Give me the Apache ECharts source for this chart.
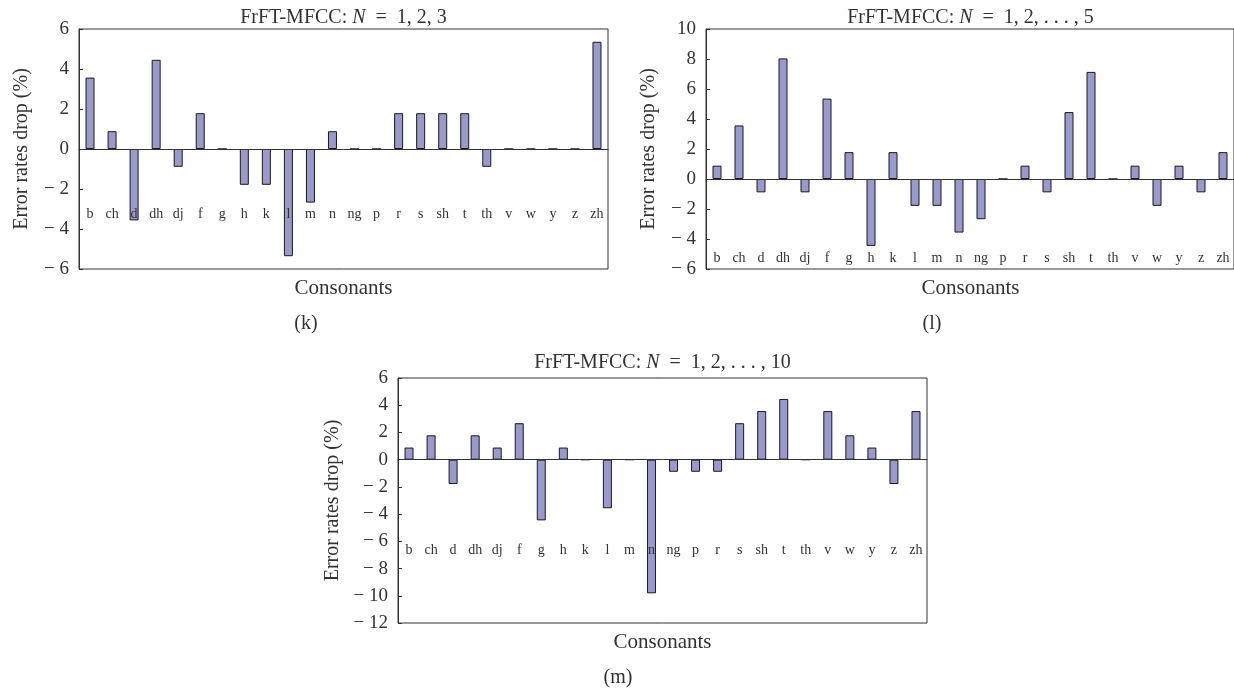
<!DOCTYPE html>
<html>
<head>
<meta charset="utf-8">
<script src="https://cdn.jsdelivr.net/npm/echarts@6/dist/echarts.min.js"></script>
<style>
  html, body { margin: 0; padding: 0; background: #fff; }
  #main { width: 1234px; height: 689px; }
</style>
</head>
<body>
<div id="main"></div>
<script>
  // consonant categories (same for all three panels)
  var consonants = ['b', 'ch', 'd', 'dh', 'dj', 'f', 'g', 'h', 'k', 'l', 'm', 'n', 'ng', 'p', 'r', 's', 'sh', 't', 'th', 'v', 'w', 'y', 'z', 'zh'];

  // error rate drop (%), panel (k) N = 1,2,3
  var dropK = [3.57, 0.89, -3.57, 4.46, -0.89, 1.79, 0, -1.79, -1.79, -5.36, -2.68, 0.89, 0, 0, 1.79, 1.79, 1.79, 1.79, -0.89, 0, 0, 0, 0, 5.36];
  // panel (l) N = 1..5
  var dropL = [0.89, 3.57, -0.89, 8.04, -0.89, 5.36, 1.79, -4.46, 1.79, -1.79, -1.79, -3.57, -2.68, 0, 0.89, -0.89, 4.46, 7.14, 0, 0.89, -1.79, 0.89, -0.89, 1.79];
  // panel (m) N = 1..10
  var dropM = [0.89, 1.79, -1.79, 1.79, 0.89, 2.68, -4.46, 0.89, 0, -3.57, 0, -9.82, -0.89, -0.89, -0.89, 2.68, 3.57, 4.46, 0, 3.57, 1.79, 0.89, -1.79, 3.57];

  // y axis ranges
  var yRangeK = [-6, 6];
  var yRangeL = [-6, 10];
  var yRangeM = [-12, 6];

  var titles = ['1, 2, 3', '1, 2, . . . , 5', '1, 2, . . . , 10'];
  var panelTags = ['(k)', '(l)', '(m)'];

  var FONT = '"Liberation Serif", "DejaVu Serif", serif';
  var INK = '#333';

  // plot boxes: left, top, width, height
  var boxes = [
    { left: 79, top: 29, width: 529, height: 240, labelMargin: 58, nameGap: 47, tagX: 306, titleGap: 11 },
    { left: 706, top: 29, width: 529, height: 240, labelMargin: 72, nameGap: 47, tagX: 932, titleGap: 11 },
    { left: 398, top: 378, width: 529, height: 245, labelMargin: 84, nameGap: 55, tagX: 618, titleGap: 15 }
  ];
  var ranges = [yRangeK, yRangeL, yRangeM];
  var datas = [dropK, dropL, dropM];

  var grids = [], xAxes = [], yAxes = [], series = [], graphics = [];

  boxes.forEach(function (b, i) {
    var lo = ranges[i][0], hi = ranges[i][1];
    // move the category axis up to the zero line
    var zeroShift = b.height * (-lo) / (hi - lo);

    grids.push({
      left: b.left, top: b.top, width: b.width, height: b.height,
      show: true, borderColor: INK, borderWidth: 1, backgroundColor: 'transparent'
    });
    xAxes.push({
      type: 'category',
      gridIndex: i,
      data: consonants,
      position: 'bottom',
      offset: -zeroShift,
      z: 5,
      axisLine: { onZero: false, lineStyle: { color: INK, width: 1 } },
      axisTick: { inside: true, length: 4, lineStyle: { color: INK } },
      axisLabel: { interval: 0, margin: b.labelMargin, color: INK, fontSize: 14, fontFamily: FONT },
      splitLine: { show: false }
    });
    yAxes.push({
      type: 'value',
      gridIndex: i,
      min: lo,
      max: hi,
      interval: 2,
      name: 'Error rates drop (%)',
      nameLocation: 'middle',
      nameGap: b.nameGap,
      nameTextStyle: { color: INK, fontSize: 20, fontFamily: FONT },
      axisLine: { show: true, lineStyle: { color: INK, width: 1 } },
      axisTick: { show: true, inside: true, length: 4, lineStyle: { color: INK } },
      axisLabel: {
        margin: 10, color: INK, fontSize: 19, fontFamily: FONT,
        formatter: function (v) { return v < 0 ? '\u2212 ' + (-v) : String(v); }
      },
      splitLine: { show: false }
    });
    series.push({
      type: 'bar',
      xAxisIndex: i,
      yAxisIndex: i,
      data: datas[i],
      barWidth: 9,
      z: 2,
      itemStyle: { color: '#9999cc', borderColor: '#1a1a1a', borderWidth: 1 },
      silent: true
    });

    var cx = b.left + b.width / 2;
    graphics.push({
      type: 'text',
      x: cx, y: b.top - b.titleGap,
      style: {
        text: '{a|FrFT-MFCC: }{i|N}{a|  =  ' + titles[i] + '}',
        align: 'center', verticalAlign: 'middle',
        rich: {
          a: { fontSize: 20, fontFamily: FONT, fill: INK, color: INK },
          i: { fontSize: 20, fontFamily: FONT, fontStyle: 'italic', fill: INK, color: INK }
        }
      }
    });
    graphics.push({
      type: 'text',
      x: cx, y: b.top + b.height + 19,
      style: { text: 'Consonants', align: 'center', verticalAlign: 'middle', fontSize: 21, fontFamily: FONT, fill: INK }
    });
    graphics.push({
      type: 'text',
      x: b.tagX, y: b.top + b.height + 55,
      style: { text: panelTags[i], align: 'center', verticalAlign: 'middle', fontSize: 20, fontFamily: FONT, fill: INK }
    });
  });

  var myChart = echarts.init(document.getElementById('main'));
  myChart.setOption({
    animation: false,
    backgroundColor: '#fff',
    grid: grids,
    xAxis: xAxes,
    yAxis: yAxes,
    series: series,
    graphic: graphics
  });
</script>
</body>
</html>
